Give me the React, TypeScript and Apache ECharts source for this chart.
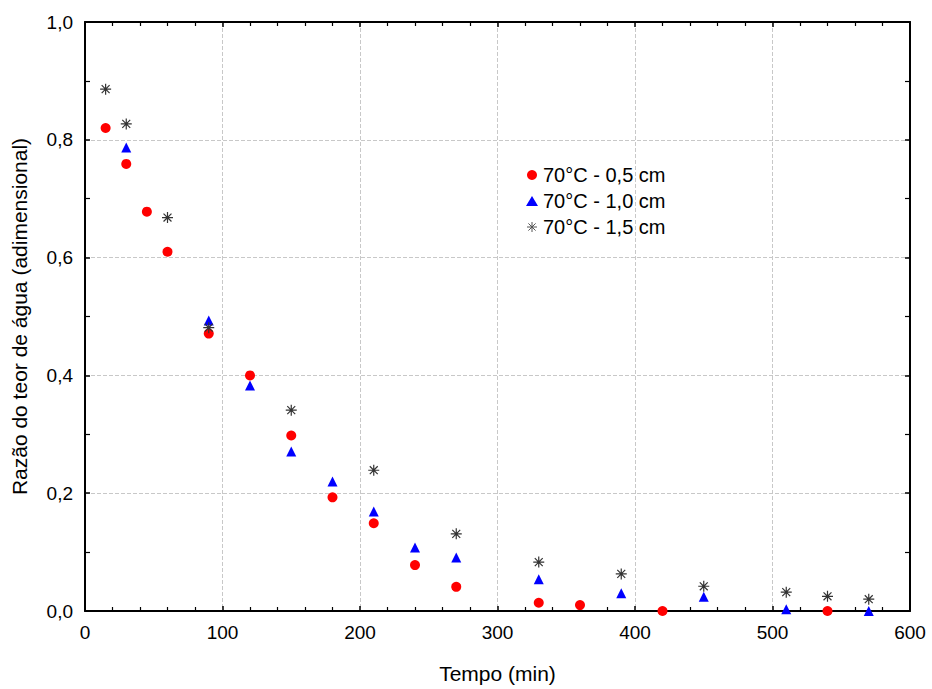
import React, { useEffect, useRef } from "react";
import * as echarts from "echarts";

const seriesNames = ["70°C - 0,5 cm", "70°C - 1,0 cm", "70°C - 1,5 cm"];

const timeA = [15, 30, 45, 60, 90, 120, 150, 180, 210, 240, 270, 330, 360, 420, 540];
const valA = [0.82, 0.759, 0.678, 0.61, 0.471, 0.4, 0.298, 0.193, 0.149, 0.078, 0.041, 0.014, 0.01, 0.0, 0.0];

const timeB = [30, 90, 120, 150, 180, 210, 240, 270, 330, 390, 450, 510, 570];
const valB = [0.787, 0.493, 0.383, 0.271, 0.22, 0.169, 0.108, 0.091, 0.054, 0.03, 0.024, 0.003, 0.0];

const timeC = [15, 30, 60, 90, 150, 210, 270, 330, 390, 450, 510, 540, 570];
const valC = [0.886, 0.827, 0.668, 0.481, 0.341, 0.239, 0.131, 0.083, 0.063, 0.042, 0.032, 0.025, 0.02];

const STAR = "path://M0,-5L0,5M-5,0L5,0M-3.6,-3.6L3.6,3.6M-3.6,3.6L3.6,-3.6";

const zip = (xs: number[], ys: number[]) => xs.map((x, i) => [x, ys[i]]);

export default function App() {
  const ref = useRef<HTMLDivElement>(null);
  useEffect(() => {
    document.body.style.margin = "0";
    const chart = echarts.init(ref.current!, null, { renderer: "svg" });
    const font = "Liberation Sans, Arial, sans-serif";
    const axisLine = { show: true, onZero: false, lineStyle: { color: "#000", width: 2 } };
    const axisTick = { show: true, inside: true, length: 5, lineStyle: { color: "#000", width: 1.5 } };
    const minorTick = (n: number) => ({ show: true, splitNumber: n, length: 4, lineStyle: { color: "#000", width: 1.2 } });
    const grid = { show: true, lineStyle: { color: "#c8c8c8", type: "dashed", width: 1 } };
    chart.setOption({
      animation: false,
      backgroundColor: "#fff",
      textStyle: { fontFamily: font },
      grid: { left: 85, top: 22, right: 22, bottom: 77 },
      legend: {
        orient: "vertical",
        left: 521,
        top: 160,
        itemGap: 6,
        itemWidth: 12,
        itemHeight: 10,
        textStyle: { fontSize: 20, color: "#000", fontFamily: font },
        data: [
          { name: seriesNames[0], icon: "circle" },
          { name: seriesNames[1], icon: "triangle" },
          { name: seriesNames[2], icon: STAR, itemStyle: { color: "transparent", borderColor: "#555", borderWidth: 1 } },
        ],
      },
      xAxis: [
        {
          type: "value",
          min: 0,
          max: 600,
          interval: 100,
          name: "Tempo (min)",
          nameLocation: "middle",
          nameGap: 52,
          nameTextStyle: { fontSize: 21, color: "#000", fontFamily: font },
          axisLabel: { fontSize: 19, color: "#000", margin: 12 },
          splitLine: grid,
          axisLine,
          axisTick,
          minorTick: minorTick(5),
        },
        {
          type: "value",
          position: "top",
          min: 0,
          max: 600,
          interval: 100,
          axisLabel: { show: false },
          splitLine: { show: false },
          axisLine,
          axisTick,
          minorTick: minorTick(5),
        },
      ],
      yAxis: [
        {
          type: "value",
          min: 0,
          max: 1,
          interval: 0.2,
          name: "Razão do teor de água (adimensional)",
          nameLocation: "middle",
          nameGap: 55,
          nameTextStyle: { fontSize: 21, color: "#000", fontFamily: font },
          axisLabel: {
            fontSize: 19,
            color: "#000",
            margin: 12,
            formatter: (v: number) => v.toFixed(1).replace(".", ","),
          },
          splitLine: grid,
          axisLine,
          axisTick,
          minorTick: { ...minorTick(2), length: 5 },
        },
        {
          type: "value",
          position: "right",
          min: 0,
          max: 1,
          interval: 0.2,
          axisLabel: { show: false },
          splitLine: { show: false },
          axisLine,
          axisTick,
          minorTick: { ...minorTick(2), length: 5 },
        },
      ],
      series: [
        {
          name: seriesNames[0],
          type: "scatter",
          symbol: "circle",
          symbolSize: 10,
          itemStyle: { color: "#ff0000", opacity: 1 },
          data: zip(timeA, valA),
          z: 3,
        },
        {
          name: seriesNames[1],
          type: "scatter",
          symbol: "triangle",
          symbolSize: 10,
          itemStyle: { color: "#0000ff", opacity: 1 },
          data: zip(timeB, valB),
          z: 4,
        },
        {
          name: seriesNames[2],
          type: "scatter",
          symbol: STAR,
          symbolSize: 11,
          itemStyle: { color: "transparent", borderColor: "#333", borderWidth: 1.2, opacity: 1 },
          data: zip(timeC, valC),
          z: 5,
        },
      ],
    });
    return () => chart.dispose();
  }, []);
  return <div ref={ref} style={{ width: 932, height: 689 }} />;
}
